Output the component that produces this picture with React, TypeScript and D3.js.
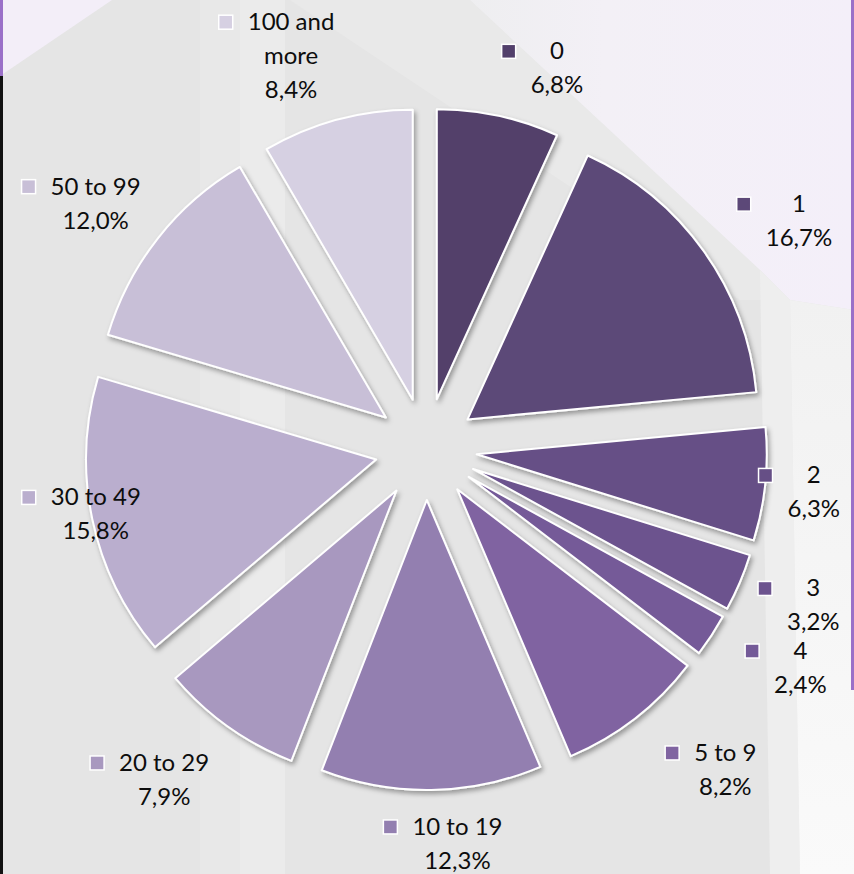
import React, { useEffect, useRef } from "react";
import * as d3 from "d3";

const categories = ["0", "1", "2", "3", "4", "5 to 9", "10 to 19", "20 to 29", "30 to 49", "50 to 99", "100 and more"];
const shares = [6.8, 16.7, 6.3, 3.2, 2.4, 8.2, 12.3, 7.9, 15.8, 12.0, 8.4];
const sliceColors = ["#52406b", "#5c4878", "#664f86", "#6c538e", "#745a98", "#8064a1", "#937fb0", "#a898bf", "#baaece", "#c8bfd7", "#d6d0e2"];
const labelNudges: [number, number][] = [[44, 20], [39, 10], [-20, 1], [10, -4], [31, -5], [48, -3], [25, -15], [-24, -3], [71, -19], [-8, 8], [-28, 3]];

const W = 854;
const H = 874;
const CX = 426;
const CY = 449;
const R = 290;
const EXPLODE = 51;
const LABEL_R = 410;
const LINE_H = 34;
const FONT = "Lato, 'Open Sans', sans-serif";

function wrap(s: string, maxChars = 8): string[] {
  const words = s.split(" ");
  const lines: string[] = [];
  let cur = "";
  for (const w of words) {
    const t = cur ? cur + " " + w : w;
    if (t.length > maxChars && cur) {
      lines.push(cur);
      cur = w;
    } else cur = t;
  }
  if (cur) lines.push(cur);
  return lines;
}

const fmt = (v: number) => d3.format(".1f")(v).replace(".", ",") + "%";

export default function App() {
  const ref = useRef<SVGSVGElement | null>(null);

  useEffect(() => {
    const svg = d3.select(ref.current!);
    svg.selectAll("*").remove();

    const defs = svg.append("defs");
    const f = defs.append("filter").attr("id", "sh").attr("x", "-20%").attr("y", "-20%").attr("width", "140%").attr("height", "140%");
    f.append("feDropShadow").attr("dx", 2).attr("dy", 3).attr("stdDeviation", 2.5).attr("flood-color", "#000").attr("flood-opacity", 0.35);

    const lg = defs.append("linearGradient").attr("id", "rightGlow").attr("x1", 0).attr("x2", 0).attr("y1", 0).attr("y2", 1);
    lg.append("stop").attr("offset", 0).attr("stop-color", "#f1f1f1");
    lg.append("stop").attr("offset", 1).attr("stop-color", "#fafafa");

    const tg = defs.append("linearGradient").attr("id", "topGlow").attr("x1", 0).attr("x2", 1).attr("y1", 0).attr("y2", 0);
    tg.append("stop").attr("offset", 0).attr("stop-color", "#eeeef0");
    tg.append("stop").attr("offset", 0.35).attr("stop-color", "#f3f0f6");
    tg.append("stop").attr("offset", 1).attr("stop-color", "#f4eff9");

    // background
    const bg = svg.append("g");
    bg.append("rect").attr("width", W).attr("height", H).attr("fill", "#e5e5e5");
    bg.append("rect").attr("x", 200).attr("y", 0).attr("width", 40).attr("height", H).attr("fill", "#e8e8e8");
    bg.append("rect").attr("x", 240).attr("y", 0).attr("width", 45).attr("height", H).attr("fill", "#ebebeb");
    bg.append("path").attr("d", "M0,0 L112,0 L0,76 Z").attr("fill", "#f3eef8");
    bg.append("path").attr("d", "M290,0 L470,0 L760,270 L780,300 L740,300 Z").attr("fill", "#e9e9e9");
    bg.append("path").attr("d", "M470,0 L854,0 L854,310 L790,300 L760,270 Z").attr("fill", "url(#topGlow)");
    bg.append("path").attr("d", "M760,270 L790,300 L800,874 L770,874 Z").attr("fill", "#eeeeee");
    bg.append("path").attr("d", "M790,300 L854,310 L854,874 L800,874 Z").attr("fill", "url(#rightGlow)");
    bg.append("rect").attr("x", 0).attr("y", 0).attr("width", 3).attr("height", 76).attr("fill", "#9a70c8");
    bg.append("rect").attr("x", 0).attr("y", 76).attr("width", 3).attr("height", H - 76).attr("fill", "#121212");
    bg.append("rect").attr("x", 851).attr("y", 0).attr("width", 3).attr("height", 690).attr("fill", "#9a70c8");

    // pie
    const pie = d3.pie<number>().sort(null).value((d) => d).startAngle(0).endAngle(2 * Math.PI);
    const arcs = pie(shares);
    const arc = d3.arc<d3.PieArcDatum<number>>().innerRadius(0).outerRadius(R);
    const g = svg.append("g").attr("transform", `translate(${CX},${CY})`);
    g.selectAll("path")
      .data(arcs)
      .join("path")
      .attr("d", arc)
      .attr("transform", (d) => {
        const m = (d.startAngle + d.endAngle) / 2;
        return `translate(${EXPLODE * Math.sin(m)},${-EXPLODE * Math.cos(m)})`;
      })
      .attr("fill", (_d, i) => sliceColors[i])
      .attr("stroke", "#ffffff")
      .attr("stroke-width", 2)
      .attr("stroke-linejoin", "round")
      .attr("filter", "url(#sh)");

    // labels
    const lab = svg.append("g");
    arcs.forEach((d, i) => {
      const m = (d.startAngle + d.endAngle) / 2;
      const ax = CX + LABEL_R * Math.sin(m) + labelNudges[i][0];
      const ay = CY - LABEL_R * Math.cos(m) + labelNudges[i][1];
      const lines = [...wrap(categories[i]), fmt(shares[i])];
      const base1 = ay - ((lines.length - 1) * LINE_H) / 2 + 8;
      const t = lab
        .append("text")
        .attr("x", ax)
        .attr("y", base1)
        .attr("text-anchor", "middle")
        .attr("font-family", FONT)
        .attr("font-size", 24)
        .attr("fill", "#0d0d0d");
      lines.forEach((ln, k) => {
        t.append("tspan").attr("x", ax).attr("y", base1 + k * LINE_H).text(ln);
      });
      const w = (t.node() as SVGTextElement).getBBox().width;
      const left = ax - w / 2;
      lab
        .append("rect")
        .attr("x", left - 15 - 14)
        .attr("y", base1 - 8 - 7)
        .attr("width", 14)
        .attr("height", 14)
        .attr("fill", sliceColors[i])
        .attr("stroke", "#ffffff")
        .attr("stroke-width", 1.5);
    });
  }, []);

  return (
    <svg
      ref={ref}
      width={W}
      height={H}
      viewBox={`0 0 ${W} ${H}`}
      style={{ position: "absolute", left: 0, top: 0, display: "block" }}
    />
  );
}
